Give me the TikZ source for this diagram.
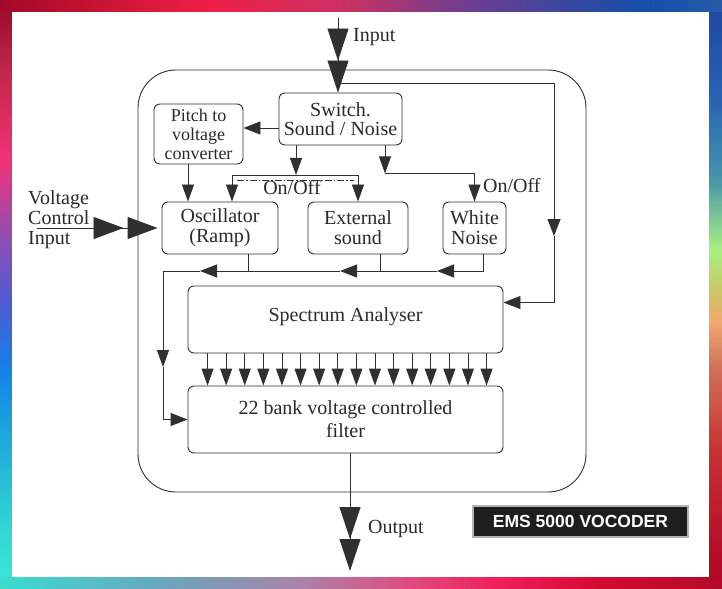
\documentclass[tikz,border=0pt]{standalone}
\usepackage{fontspec}
\setmainfont{Liberation Serif}
\newfontfamily\emsfont{Liberation Sans}
\usetikzlibrary{arrows.meta,calc}
\definecolor{ink}{HTML}{2A2A2A}
\definecolor{wirec}{HTML}{303030}
\definecolor{emsfill}{HTML}{1E1E1E}
\definecolor{emsedge}{HTML}{B4B4B4}
% frame colours: top
\definecolor{tA}{RGB}{160,10,40}\definecolor{tB}{RGB}{200,20,50}\definecolor{tC}{RGB}{240,30,70}
\definecolor{tD}{RGB}{200,50,100}\definecolor{tE}{RGB}{120,60,140}\definecolor{tF}{RGB}{60,70,160}
\definecolor{tG}{RGB}{20,80,170}\definecolor{tH}{RGB}{40,90,170}
% bottom
\definecolor{bA}{RGB}{60,220,210}\definecolor{bB}{RGB}{100,170,190}\definecolor{bC}{RGB}{170,130,170}
\definecolor{bD}{RGB}{220,80,130}\definecolor{bE}{RGB}{240,30,90}\definecolor{bF}{RGB}{210,10,50}
\definecolor{bG}{RGB}{180,10,40}
% left (bottom to top)
\definecolor{lA}{RGB}{60,230,220}\definecolor{lB}{RGB}{50,220,210}\definecolor{lC}{RGB}{30,170,220}
\definecolor{lD}{RGB}{20,130,230}\definecolor{lE}{RGB}{80,90,210}\definecolor{lF}{RGB}{140,80,180}
\definecolor{lG}{RGB}{240,50,120}\definecolor{lH}{RGB}{200,40,80}\definecolor{lI}{RGB}{150,10,40}
% right (bottom to top)
\definecolor{rA}{RGB}{170,10,35}\definecolor{rB}{RGB}{180,10,40}\definecolor{rC}{RGB}{200,50,50}
\definecolor{rD}{RGB}{210,110,90}\definecolor{rE}{RGB}{240,170,110}\definecolor{rF}{RGB}{200,200,100}
\definecolor{rG}{RGB}{170,240,130}\definecolor{rH}{RGB}{70,150,170}\definecolor{rI}{RGB}{40,100,180}
\definecolor{rJ}{RGB}{30,70,160}
\pgfdeclarehorizontalshading{topedge}{100bp}{color(0bp)=(tA); color(25bp)=(tA); color(31.9bp)=(tB); color(39.5bp)=(tC); color(49.2bp)=(tD); color(56.2bp)=(tE); color(63.8bp)=(tF); color(70bp)=(tG); color(75bp)=(tH); color(100bp)=(tH)}
\pgfdeclarehorizontalshading{bottomedge}{100bp}{color(0bp)=(bA); color(25bp)=(bA); color(35.4bp)=(bB); color(45.8bp)=(bC); color(52.7bp)=(bD); color(59.6bp)=(bE); color(66.6bp)=(bF); color(75bp)=(bG); color(100bp)=(bG)}
\pgfdeclareverticalshading{leftedge}{100bp}{color(0bp)=(lA); color(25bp)=(lA); color(29.2bp)=(lB); color(37.6bp)=(lC); color(43.6bp)=(lD); color(49.5bp)=(lE); color(54.6bp)=(lF); color(61.4bp)=(lG); color(68.2bp)=(lH); color(75bp)=(lI); color(100bp)=(lI)}
\pgfdeclareverticalshading{rightedge}{100bp}{color(0bp)=(rA); color(25bp)=(rA); color(27.5bp)=(rB); color(36.8bp)=(rC); color(43.6bp)=(rD); color(47.8bp)=(rE); color(50.4bp)=(rF); color(53.8bp)=(rG); color(59.7bp)=(rH); color(66.5bp)=(rI); color(75bp)=(rJ); color(100bp)=(rJ)}
\begin{document}
\begin{tikzpicture}[x=1bp,y=-1bp,
  every node/.style={font=\fontsize{20bp}{20bp}\selectfont, text=ink, inner sep=0pt},
  box/.style={draw=wirec, line width=0.9bp, rounded corners=6bp, align=center},
  ln/.style={draw=wirec, line width=0.9bp},
  sarr/.style={ln, -{Triangle[length=17bp,width=13bp]}},
  darr/.style={ln, -{Triangle[length=17bp,width=12bp]}},
  barr/.style={ln, -{Triangle[length=32bp,width=21bp]Triangle[length=32bp,width=21bp]}},
  varr/.style={ln, -{Triangle[length=30bp,width=22bp,sep=4bp]Triangle[length=30bp,width=22bp,sep=4bp]}},
  dashdot/.style={ln, dash pattern=on 7bp off 2bp on 1.5bp off 2bp}
]
\useasboundingbox (0,0) rectangle (722,589);
% rainbow frame
\shade[shading=leftedge] (0,0) rectangle (12.5,589);
\shade[shading=rightedge] (708,0) rectangle (722,589);
\shade[shading=topedge] (0,0) rectangle (722,12);
\shade[shading=bottomedge] (0,577) rectangle (722,589);
\fill[white] (12,12) rectangle (708.5,577);

% outer rounded frame
\node[draw=wirec, line width=0.9bp, rounded corners=38bp, minimum width=448bp, minimum height=422bp] (outer) at (362,281) {};

% boxes
\node[box, minimum width=123bp, minimum height=52bp] (sw) at (340.5,119) {Switch.\\[-1.5bp]Sound / Noise};
\node[box, minimum width=89bp, minimum height=60bp, font=\fontsize{18bp}{19bp}\selectfont] (pitch) at (198.5,134) {Pitch to\\voltage\\converter};
\node[box, minimum width=116bp, minimum height=52bp] (osc) at (220,228) {Oscillator\\(Ramp)};
\node[box, minimum width=100bp, minimum height=52bp] (ext) at (358,228) {External\\sound};
\node[box, minimum width=63bp, minimum height=52bp] (wn) at (474.5,228) {White\\Noise};
\node[box, minimum width=315bp, minimum height=67bp, text height=10bp, text depth=7bp] (spec) at (345.5,319.5) {Spectrum Analyser};
\node[box, minimum width=315bp, minimum height=67bp] (filt) at (345.5,419.5) {22 bank voltage controlled\\[3bp]filter};

% labels
\node[anchor=base west] (intxt) at (353,42) {Input};
\node[anchor=west, align=left] (vctxt) at (28,220) {Voltage\\Control\\Input};
\node[anchor=base] (onoff1) at (292,195) {On/Off};
\node[anchor=base west] (onoff2) at (483,193) {On/Off};
\node[anchor=base west] (outtxt) at (368,533) {Output};
\node[draw=emsedge, line width=1.5bp, fill=emsfill, minimum width=215bp, minimum height=31bp,
      font={\fontsize{17.5bp}{18bp}\emsfont\bfseries}, text=white] (ems) at (580.5,521.5) {EMS 5000 VOCODER};

% helper coordinates
\coordinate (inTop) at (338,18);
\coordinate (fb) at (338,83);
\coordinate (fbm) at (554,236);
\coordinate (vcs) at (37,228);
\coordinate (outEnd) at (350,571);
\coordinate (hlL) at (232,175);
\coordinate (hlR) at (358,175);
\coordinate (bus) at (0,271);
\coordinate (t1) at (437,271);
\coordinate (t2) at (340,271);
\coordinate (t3) at (200,271);
\coordinate (crn) at (163,271);
\coordinate (t4) at (163,367);

% input / output / voltage control
\draw[barr] (inTop) -- (inTop |- sw.north);
\draw[barr] (filt.south -| outEnd) -- (outEnd);
\draw[varr] (vcs) -- (osc.west);

% feedback to spectrum analyser
\draw[sarr] (fb) -| (fbm);
\draw[sarr] (fbm) |- ($(spec.north east)!0.25!(spec.south east)$);

% switch outputs
\draw[sarr] ($(sw.west)+(0,9)$) coordinate (swW) -- (swW -| pitch.east);
\draw[darr] ($(sw.south)+(-44.5,0)$) coordinate (sd1) -- (sd1 |- hlL);
\draw[darr] (hlR) -- (hlL) -- (hlL |- osc.north);
\draw[darr] (hlR) -- (hlR |- ext.north);
\draw[dashdot] ($(hlL)+(5,5)$) -- ($(hlR)+(-4,5)$);
\draw[darr] ($(sw.south)+(44.5,0)$) coordinate (sd2) -- ++(0,28) coordinate (sd2e);
\draw[darr] (sd2e) -| (wn.north);
\draw[darr] ($(pitch.south)+(-10.5,0)$) coordinate (pd) -- (pd |- osc.north);

% collection bus
\draw[sarr] ($(wn.south)+(8.5,0)$) |- (t1);
\draw[sarr] (t1) -- (t2);
\draw[sarr] (t2) -- (t3);
\draw[darr] (t3) -- (crn) -- (t4);
\draw[sarr] (t4) |- (filt.west);
\draw[ln] ($(ext.south)+(22,0)$) coordinate (ed) -- (ed |- bus);
\draw[ln] ($(osc.south)+(28,0)$) coordinate (od) -- (od |- bus);

% 16 control lines
\foreach \i in {0,...,15}
  \draw[darr] ($(spec.south west)+({20+18.6*\i},0)$) -- ($(filt.north west)+({20+18.6*\i},0)$);
\end{tikzpicture}
\end{document}
